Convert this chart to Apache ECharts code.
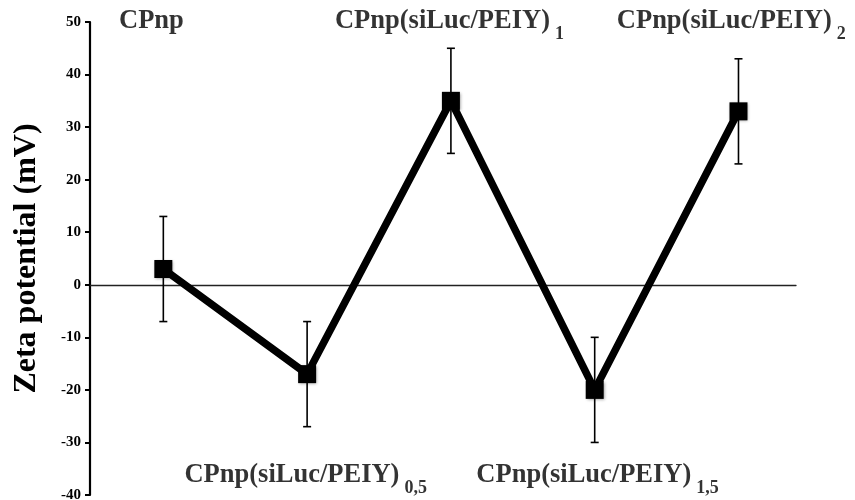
<!DOCTYPE html>
<html>
<head>
<meta charset="utf-8">
<script src="https://cdn.jsdelivr.net/npm/echarts@6/dist/echarts.min.js"></script>
<style>
  html, body { margin: 0; padding: 0; background: #fff; }
  #chart { width: 855px; height: 500px; }
</style>
</head>
<body>
<div id="chart"></div>
<script>
// samples, in drawing order (x = 1..5)
var samples = ['CPnp', '0,5', '1', '1,5', '2']
var zeta = [3, -17, 35, -20, 33]
var zetaErr = [10, 10, 10, 10, 10]

var serif = 'Liberation Serif'

// where each sample name sits (data coords)
var labelSpots = [
  { x: 0.95, y: 50, sub: '' },
  { x: 1.99, y: -36.4, sub: '0,5' },
  { x: 2.99, y: 50, sub: '1' },
  { x: 4.02, y: -36.4, sub: '1,5' },
  { x: 4.95, y: 50, sub: '2' }
]

var points = zeta.map(function (v, i) { return [i + 1, v] })
var bars = zeta.map(function (v, i) { return [i + 1, v - zetaErr[i], v + zetaErr[i]] })

var labelData = labelSpots.map(function (s) {
  return {
    value: [s.x, s.y],
    label: {
      formatter: s.sub ? '{m|CPnp(siLuc/PEIY)}{s|' + s.sub + '}' : '{m|CPnp}{s| }'
    }
  }
})

var chart = echarts.init(document.getElementById('chart'))

chart.setOption({
  animation: false,
  grid: { left: 90, right: 59, top: 22, bottom: 5, outerBoundsMode: 'none', containLabel: false },
  xAxis: {
    type: 'value',
    min: 0.49,
    max: 5.4,
    axisLine: { onZero: true, lineStyle: { color: '#222', width: 1.3 } },
    axisTick: { show: false },
    axisLabel: { show: false },
    splitLine: { show: false }
  },
  yAxis: {
    type: 'value',
    min: -40,
    max: 50,
    interval: 10,
    name: 'Zeta potential (mV)',
    nameLocation: 'middle',
    nameGap: 47,
    nameTextStyle: { fontFamily: serif, fontWeight: 'bold', fontSize: 32, color: '#000' },
    axisLine: { show: true, onZero: false, lineStyle: { color: '#000', width: 2.2 } },
    axisTick: { show: true, inside: false, length: 5, lineStyle: { color: '#000', width: 2 } },
    axisLabel: { fontFamily: serif, fontWeight: 'bold', fontSize: 15, color: '#000', margin: 9 },
    splitLine: { show: false }
  },
  series: [
    {
      type: 'custom',
      data: bars,
      z: 1,
      renderItem: function (params, api) {
        var x = api.value(0)
        var lo = api.coord([x, api.value(1)])
        var hi = api.coord([x, api.value(2)])
        var cap = 4
        var st = { stroke: '#000', lineWidth: 1.6 }
        return {
          type: 'group',
          children: [
            { type: 'line', shape: { x1: lo[0], y1: lo[1], x2: hi[0], y2: hi[1] }, style: st },
            { type: 'line', shape: { x1: lo[0] - cap, y1: lo[1], x2: lo[0] + cap, y2: lo[1] }, style: st },
            { type: 'line', shape: { x1: hi[0] - cap, y1: hi[1], x2: hi[0] + cap, y2: hi[1] }, style: st }
          ]
        }
      }
    },
    {
      type: 'line',
      data: points,
      z: 2,
      symbol: 'rect',
      symbolSize: 18,
      lineStyle: { color: '#000', width: 7.5 },
      itemStyle: { color: '#000', shadowBlur: 3, shadowColor: 'rgba(0,0,0,0.4)', shadowOffsetX: 1, shadowOffsetY: 1 }
    },
    {
      type: 'scatter',
      data: labelData,
      symbolSize: 0,
      silent: true,
      label: {
        show: true,
        position: 'inside',
        offset: [0, 1],
        rich: {
          m: { fontFamily: serif, fontWeight: 'bold', fontSize: 26.5, color: '#000', lineHeight: 30, verticalAlign: 'top' },
          s: { fontFamily: serif, fontWeight: 'bold', fontSize: 18, color: '#000', lineHeight: 30, verticalAlign: 'top', padding: [17, 0, 0, 5] }
        }
      }
    }
  ]
})
</script>
</body>
</html>
